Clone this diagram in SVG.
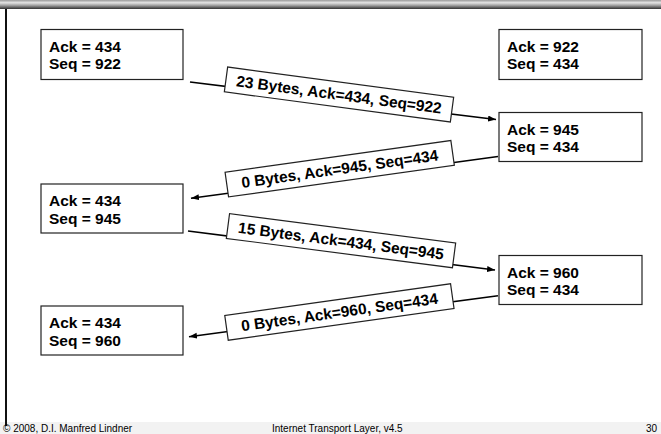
<svg xmlns="http://www.w3.org/2000/svg" width="661" height="434" viewBox="0 0 661 434">
<defs>
<linearGradient id="bar" x1="0" y1="0" x2="0" y2="1">
<stop offset="0" stop-color="#9a9a9a"/>
<stop offset="0.3" stop-color="#e4e4e4"/>
<stop offset="0.6" stop-color="#a0a0a0"/>
<stop offset="0.85" stop-color="#5a5a5a"/>
<stop offset="1" stop-color="#333"/>
</linearGradient>
<marker id="arr" markerUnits="userSpaceOnUse" markerWidth="9" markerHeight="7" refX="8" refY="3" orient="auto">
<path d="M0,0 L8,3 L0,6 z" fill="#000"/>
</marker>
<style>
.box{fill:#fff;stroke:#222;stroke-width:1.2}
.t{font-family:"Liberation Sans",Arial,sans-serif;font-weight:bold;font-size:15.5px;fill:#000}
.ln{stroke:#000;stroke-width:1.6;fill:none;marker-end:url(#arr)}
.lb{fill:#fff;stroke:#222;stroke-width:1.2}
.f{font-family:"Liberation Sans",Arial,sans-serif;font-size:10px;fill:#000}
</style>
</defs>
<rect x="0" y="0" width="661" height="434" fill="#fff"/>
<rect x="0" y="0" width="661" height="9" fill="url(#bar)"/>
<rect x="0" y="422" width="661" height="12" fill="#f2f2f2"/>
<line x1="6" y1="9" x2="6" y2="426" stroke="#111" stroke-width="2"/>

<g id="n1"><rect class="box" x="41" y="29.5" width="142" height="50"/><text class="t" x="49" y="51.5">Ack = 434</text><text class="t" x="49" y="69">Seq = 922</text></g>
<g id="n2"><rect class="box" x="499" y="29.5" width="143" height="50"/><text class="t" x="507" y="51.5">Ack = 922</text><text class="t" x="507" y="69">Seq = 434</text></g>
<g id="n3"><rect class="box" x="499" y="112.5" width="143" height="49"/><text class="t" x="507" y="134.5">Ack = 945</text><text class="t" x="507" y="152">Seq = 434</text></g>
<g id="n4"><rect class="box" x="41" y="184" width="142" height="49"/><text class="t" x="49" y="206">Ack = 434</text><text class="t" x="49" y="223.5">Seq = 945</text></g>
<g id="n5"><rect class="box" x="499" y="255.5" width="143" height="49"/><text class="t" x="507" y="277.5">Ack = 960</text><text class="t" x="507" y="295">Seq = 434</text></g>
<g id="n6"><rect class="box" x="41" y="306" width="142" height="49"/><text class="t" x="49" y="328">Ack = 434</text><text class="t" x="49" y="345.5">Seq = 960</text></g>

<g id="connectors">
<g id="c1">
<line class="ln" x1="190" y1="82" x2="496" y2="119.5"/>
<g transform="translate(339,94.5) rotate(7.6)"><rect class="lb" x="-114" y="-12.5" width="228" height="25"/><text class="t" x="0" y="5.5" text-anchor="middle">23 Bytes, Ack=434, Seq=922</text></g>
</g>
<g id="c2">
<line class="ln" x1="498" y1="156.5" x2="191" y2="198.3"/>
<g transform="translate(339.7,168.7) rotate(-8)"><rect class="lb" x="-114" y="-12.5" width="228" height="25"/><text class="t" x="0" y="5.5" text-anchor="middle">0 Bytes, Ack=945, Seq=434</text></g>
</g>
<g id="c3">
<line class="ln" x1="188" y1="231" x2="495" y2="270"/>
<g transform="translate(341,240.7) rotate(7.4)"><rect class="lb" x="-114" y="-12.5" width="228" height="25"/><text class="t" x="0" y="5.5" text-anchor="middle">15 Bytes, Ack=434, Seq=945</text></g>
</g>
<g id="c4">
<line class="ln" x1="498" y1="295.7" x2="189" y2="336.7"/>
<g transform="translate(339.4,312) rotate(-8)"><rect class="lb" x="-114" y="-12.5" width="228" height="25"/><text class="t" x="0" y="5.5" text-anchor="middle">0 Bytes, Ack=960, Seq=434</text></g>
</g>
</g>

<text class="f" x="3" y="432">© 2008, D.I. Manfred Lindner</text>
<text class="f" x="272" y="432">Internet Transport Layer, v4.5</text>
<text class="f" x="657" y="432" text-anchor="end">30</text>
</svg>
